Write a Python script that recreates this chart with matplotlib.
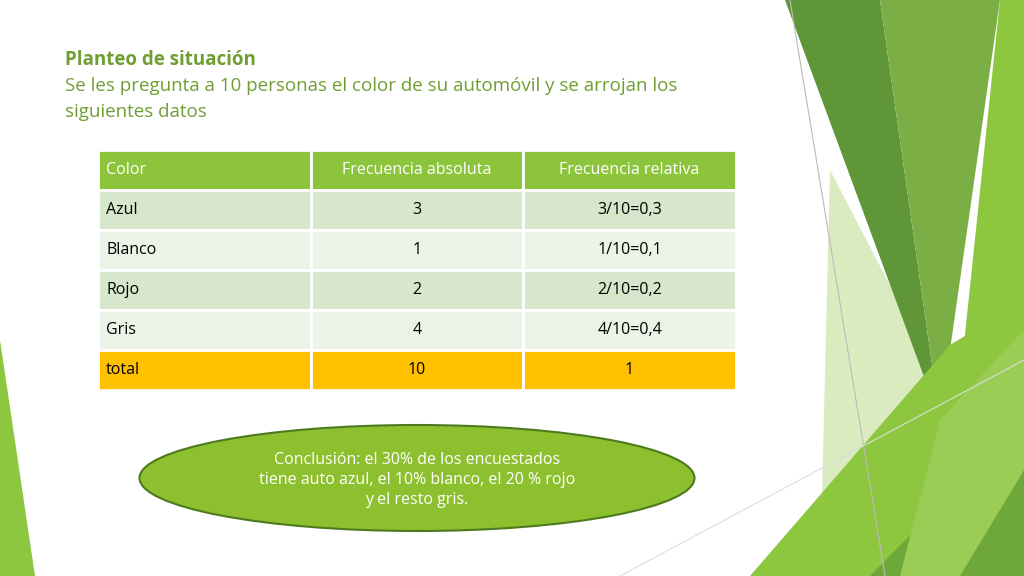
import matplotlib
matplotlib.use("Agg")
import matplotlib.pyplot as plt
from matplotlib.patches import Polygon, Rectangle, Ellipse

headers = ["Color", "Frecuencia absoluta", "Frecuencia relativa"]
colors = ["Azul", "Blanco", "Rojo", "Gris", "total"]
freq_abs = ["3", "1", "2", "4", "10"]
freq_rel = ["3/10=0,3", "1/10=0,1", "2/10=0,2", "4/10=0,4", "1"]

fig = plt.figure(figsize=(10.24, 5.76), dpi=100)
ax = fig.add_axes([0, 0, 1, 1])
ax.set_xlim(0, 1024)
ax.set_ylim(576, 0)
ax.axis("off")

# decorative shapes on the right / left
shapes = [
    ([(830, 170), (960, 420), (880, 576), (820, 576)], "#d9ebbf"),
    ([(785, 0), (880, 0), (940, 420)], "#5e9638"),
    ([(880, 0), (1000, 0), (940, 420)], "#7bae45"),
    ([(1000, 0), (1024, 0), (1024, 330), (955, 430)], "#8dc63f"),
    ([(750, 576), (950, 345), (1024, 300), (1024, 576)], "#8dc63f"),
    ([(870, 576), (1024, 420), (1024, 576)], "#6fa83a"),
    ([(940, 420), (1024, 330), (1024, 470), (960, 576), (900, 576)], "#9bcc55"),
    ([(0, 340), (35, 576), (0, 576)], "#8dc63f"),
]
for pts, c in shapes:
    ax.add_patch(Polygon(pts, closed=True, color=c, lw=0))
ax.plot([790, 885], [0, 576], color="#bbbbbb", lw=0.8)
ax.plot([620, 1024], [576, 360], color="#dddddd", lw=0.8)

font = "Open Sans"
ax.text(65, 60, "Planteo de situación", color="#6f9e32", fontsize=13.5,
        fontweight="bold", family=font, va="center")
ax.text(65, 86, "Se les pregunta a 10 personas el color de su automóvil y se arrojan los",
        color="#6f9e32", fontsize=13.5, family=font, va="center")
ax.text(65, 112, "siguientes datos", color="#6f9e32", fontsize=13.5, family=font, va="center")

# table
col_x = [98, 311, 523, 736]
top, rh = 150, 40
rows = [headers] + [[a, b, c] for a, b, c in zip(colors, freq_abs, freq_rel)]
for i, row in enumerate(rows):
    y = top + i * rh
    if i == 0:
        bg, tc = "#8cc43c", "white"
    elif i == len(rows) - 1:
        bg, tc = "#ffc000", "black"
    else:
        bg, tc = ("#d7e7cb" if i % 2 == 1 else "#ecf3e7"), "black"
    for j in range(3):
        ax.add_patch(Rectangle((col_x[j], y), col_x[j + 1] - col_x[j], rh,
                               facecolor=bg, edgecolor="white", lw=2))
        if j == 0:
            ax.text(col_x[0] + 8, y + rh / 2, row[j], color=tc, fontsize=11.5,
                    family=font, va="center", ha="left")
        else:
            ax.text((col_x[j] + col_x[j + 1]) / 2, y + rh / 2, row[j], color=tc,
                    fontsize=11.5, family=font, va="center", ha="center")

ax.add_patch(Ellipse((417, 478), 555, 106, facecolor="#8dc02e",
                     edgecolor="#4e7a1e", lw=1.5))
ax.text(417, 480, "Conclusión: el 30% de los encuestados\n"
        "tiene auto azul, el 10% blanco, el 20 % rojo\ny el resto gris.",
        color="white", fontsize=11.5, family=font, ha="center", va="center",
        linespacing=1.3)

fig.savefig("out.png", dpi=100)
